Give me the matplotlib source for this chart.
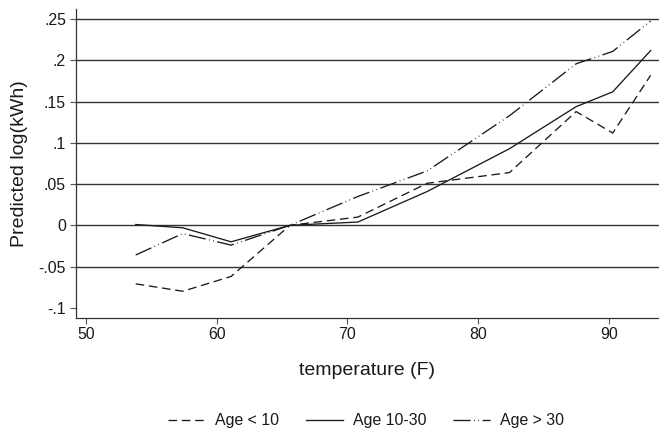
import numpy as np
import matplotlib
matplotlib.use('Agg')
import matplotlib.pyplot as plt

plt.rcParams['font.family'] = ['Liberation Sans', 'DejaVu Sans']

temperature = [53.8, 57.4, 61.1, 65.6, 70.8, 76.1, 82.4, 87.5, 90.3, 93.2]
age_under_10 = [-0.071, -0.080, -0.062, 0.000, 0.010, 0.051, 0.064, 0.138, 0.112, 0.182]
age_10_30 = [0.001, -0.003, -0.020, 0.000, 0.004, 0.041, 0.093, 0.144, 0.162, 0.212]
age_over_30 = [-0.036, -0.010, -0.024, 0.000, 0.035, 0.066, 0.133, 0.196, 0.211, 0.248]
series_labels = ['Age < 10', 'Age 10-30', 'Age > 30']

x_ticks = [50, 60, 70, 80, 90]
y_ticks = [-0.1, -0.05, 0, 0.05, 0.1, 0.15, 0.2, 0.25]
y_tick_labels = ['-.1', '-.05', '0', '.05', '.1', '.15', '.2', '.25']

ink = '#1a1a1a'

fig = plt.figure(figsize=(6.59, 4.29), dpi=100)
ax = fig.add_axes([0.1149, 0.2594, 0.8851, 0.7189])

# grid lines (none at the bottom tick)
for yv in y_ticks[1:]:
    ax.axhline(yv, color='#333333', lw=1.0, zorder=1)

ax.plot(temperature, age_under_10, color=ink, lw=0.95, dashes=(6.5, 3.6),
        label=series_labels[0], zorder=3)
ax.plot(temperature, age_10_30, color=ink, lw=0.95,
        label=series_labels[1], zorder=3)
ax.plot(temperature, age_over_30, color=ink, lw=0.95,
        dashes=(13, 2.6, 0.6, 2.6, 0.6, 2.6), label=series_labels[2], zorder=3)

ax.set_xlim(49.21, 93.84)
ax.set_ylim(-0.1121, 0.2621)

ax.set_xticks(x_ticks)
ax.set_yticks(y_ticks)
ax.set_yticklabels(y_tick_labels)
ax.tick_params(axis='both', direction='out', length=4, width=0.8, color='#555555',
               labelsize=11.4, labelcolor=ink, pad=3)

for side in ['top', 'right']:
    ax.spines[side].set_visible(False)
for side in ['left', 'bottom']:
    ax.spines[side].set_color('#333333')
    ax.spines[side].set_linewidth(0.9)

ax.set_ylabel('Predicted log(kWh)', fontsize=14, color=ink, labelpad=8)
ax.set_xlabel('temperature (F)', fontsize=14, color=ink, labelpad=14)

fig.legend(loc='center', bbox_to_anchor=(366 / 659, 1 - 421 / 429), ncol=3,
           frameon=False, fontsize=11.4, handlelength=2.35, handletextpad=0.6,
           columnspacing=1.7, labelcolor=ink)

fig.savefig('out.png', dpi=100)
